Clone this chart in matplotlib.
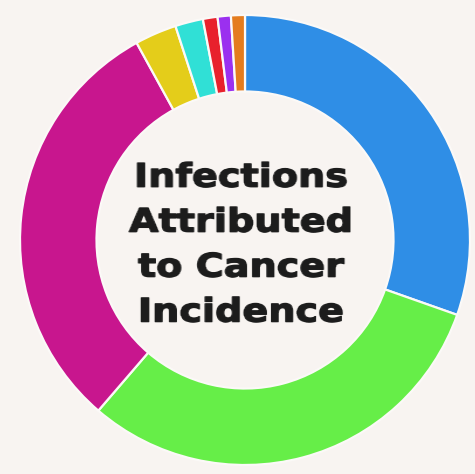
import matplotlib
matplotlib.use('Agg')
import matplotlib.pyplot as plt
import matplotlib.patheffects as pe
import numpy as np

groups = ['Group A', 'Group B', 'Group C', 'Group D', 'Group E', 'Group F', 'Group G', 'Group H']
shares = [30.4, 30.9, 30.7, 3.0, 2.0, 1.05, 0.95, 1.0]
colors = ['#2f8ee6', '#66ee48', '#c8168e', '#e4cd1a', '#30e0d6', '#e8212c', '#9b30ef', '#e47c1e']
title_lines = ['Infections', 'Attributed', 'to Cancer', 'Incidence']


def widen(s):
    # agg filter: stretch the rendered text horizontally (wide Verdana-like look)
    def f(img, dpi):
        h, w = img.shape[:2]
        W = int(round(w * s))
        src = (np.arange(W) + 0.5) / s - 0.5
        src = np.clip(src, 0, w - 1)
        x0 = np.floor(src).astype(int)
        x1 = np.minimum(x0 + 1, w - 1)
        fr = (src - x0)[None, :, None]
        out = img[:, x0] * (1 - fr) + img[:, x1] * fr
        return out, -(W - w) / 2.0, 0
    return f


bg = '#f8f4f1'
fig = plt.figure(figsize=(4.75, 4.74), dpi=100, facecolor=bg)
ax = fig.add_axes([0, 0, 1, 1])
ax.set_facecolor(bg)

# ring: outer radius ~225px, hole ~148px
ax.pie(shares, colors=colors, startangle=90, counterclock=False, radius=1.0,
       wedgeprops=dict(width=0.34, edgecolor='#fbf9f7', linewidth=1.6))

# map data units to pixels: centre at (245, 240) px, radius 225 px
ax.set_xlim(-245 / 225, (475 - 245) / 225)
ax.set_ylim(-(474 - 240) / 225, 240 / 225)
ax.set_aspect('auto')
ax.axis('off')

t = ax.text(-0.02, -0.021, '\n'.join(title_lines), ha='center', va='center',
            fontsize=23.5, fontweight='bold', color='#1c1c1c', linespacing=1.46,
            family='DejaVu Sans',
            path_effects=[pe.withStroke(linewidth=0.9, foreground='#1c1c1c')])
t.set_agg_filter(widen(1.17))

fig.savefig('out.png', dpi=100, facecolor=bg)
